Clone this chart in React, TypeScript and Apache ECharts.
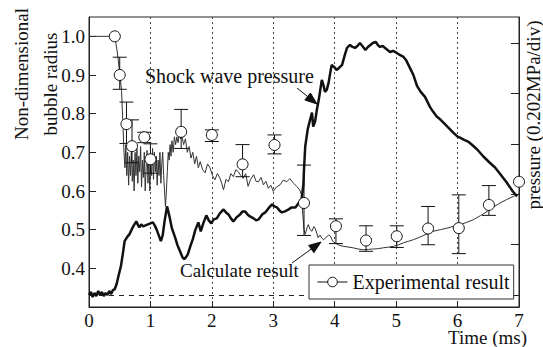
import React, { useEffect, useRef } from "react";
import * as echarts from "echarts";

const FONT = "Liberation Serif";

// Tick values
const radiusTicks = [0.4, 0.5, 0.6, 0.7, 0.8, 0.9, 1.0];
const pressureTicks = [0, 0.202, 0.404, 0.606, 0.808, 1.01]; // 0.202 MPa/div

// Calculated bubble radius (thin line): [time ms, non-dimensional radius]
const calculated: number[][] = [
  [0, 1.0], [0.42, 1.0], [0.46, 0.96], [0.5, 0.905], [0.53, 0.86], [0.55, 0.78], [0.57, 0.7],
  [0.585, 0.66], [0.6, 0.72], [0.615, 0.64], [0.63, 0.7], [0.645, 0.615], [0.66, 0.69],
  [0.675, 0.64], [0.69, 0.705], [0.705, 0.625], [0.72, 0.68], [0.735, 0.6], [0.75, 0.7],
  [0.765, 0.64], [0.78, 0.71], [0.795, 0.62], [0.81, 0.69], [0.825, 0.65], [0.84, 0.715],
  [0.855, 0.61], [0.87, 0.68], [0.885, 0.635], [0.9, 0.7], [0.915, 0.6], [0.93, 0.66],
  [0.945, 0.705], [0.96, 0.62], [0.975, 0.69], [0.99, 0.6], [1.005, 0.67], [1.02, 0.64],
  [1.035, 0.71], [1.05, 0.63], [1.065, 0.7], [1.08, 0.65], [1.095, 0.69], [1.11, 0.615],
  [1.125, 0.68], [1.14, 0.64], [1.155, 0.7], [1.17, 0.62], [1.185, 0.67], [1.2, 0.7],
  [1.215, 0.64], [1.23, 0.6], [1.245, 0.56], [1.26, 0.6], [1.275, 0.65], [1.29, 0.7],
  [1.305, 0.68], [1.32, 0.72], [1.335, 0.69], [1.35, 0.73], [1.37, 0.7], [1.39, 0.74],
  [1.41, 0.72], [1.43, 0.74], [1.45, 0.725], [1.47, 0.75], [1.49, 0.735], [1.51, 0.745],
  [1.54, 0.72], [1.57, 0.735], [1.6, 0.7], [1.63, 0.715], [1.66, 0.685], [1.69, 0.7],
  [1.72, 0.67], [1.75, 0.69], [1.78, 0.66], [1.81, 0.676], [1.85, 0.655], [1.89, 0.647],
  [1.93, 0.67], [1.97, 0.66], [2.01, 0.64], [2.05, 0.629], [2.09, 0.645], [2.13, 0.634],
  [2.16, 0.62], [2.19, 0.603], [2.23, 0.63], [2.27, 0.624], [2.31, 0.645], [2.35, 0.637],
  [2.39, 0.655], [2.43, 0.65], [2.47, 0.64], [2.51, 0.633], [2.55, 0.645], [2.59, 0.612],
  [2.63, 0.63], [2.68, 0.642], [2.72, 0.625], [2.76, 0.624], [2.8, 0.635], [2.84, 0.616],
  [2.88, 0.625], [2.92, 0.607], [2.96, 0.615], [3.0, 0.599], [3.05, 0.61], [3.11, 0.616],
  [3.16, 0.628], [3.22, 0.624], [3.27, 0.632], [3.33, 0.62], [3.38, 0.612], [3.43, 0.603],
  [3.46, 0.59], [3.48, 0.54], [3.5, 0.5], [3.52, 0.488], [3.55, 0.505], [3.57, 0.513],
  [3.6, 0.5], [3.63, 0.496], [3.66, 0.508], [3.68, 0.504], [3.71, 0.49], [3.73, 0.479],
  [3.76, 0.486], [3.79, 0.478], [3.82, 0.474], [3.86, 0.48], [3.9, 0.486], [3.93, 0.483],
  [3.97, 0.47], [4.0, 0.466], [4.07, 0.46], [4.14, 0.457], [4.22, 0.455], [4.3, 0.453],
  [4.38, 0.45], [4.47, 0.448], [4.55, 0.449], [4.63, 0.45], [4.71, 0.451], [4.79, 0.453],
  [4.88, 0.455], [4.96, 0.457], [5.04, 0.461], [5.12, 0.466], [5.2, 0.47], [5.28, 0.474],
  [5.39, 0.481], [5.5, 0.489], [5.61, 0.496], [5.72, 0.5], [5.83, 0.504], [5.94, 0.509],
  [6.04, 0.513], [6.15, 0.519], [6.26, 0.526], [6.37, 0.536], [6.48, 0.547], [6.58, 0.558],
  [6.69, 0.569], [6.8, 0.578], [6.91, 0.586], [7.0, 0.593],
];

// Shock wave pressure (thick line), MPa
const pressT = [0,0.03,0.06,0.09,0.12,0.15,0.18,0.21,0.24,0.27,
  0.30,0.33,0.36,0.39,0.42,0.45,0.48,0.52,0.55,0.58,
  0.62,0.66,0.69,0.72,0.75,0.77,0.80,0.82,0.85,0.88,
  0.92,0.96,1.00,1.04,1.07,1.10,1.14,1.17,1.20,1.23,
  1.27,1.31,1.35,1.40,1.44,1.48,1.52,1.55,1.58,1.61,
  1.65,1.69,1.73,1.78,1.82,1.86,1.91,1.95,1.99,2.03,
  2.08,2.13,2.19,2.23,2.27,2.31,2.35,2.40,2.46,2.50,
  2.54,2.58,2.62,2.68,2.72,2.76,2.82,2.87,2.92,2.98,
  3.02,3.06,3.10,3.14,3.19,3.25,3.30,3.36,3.42,3.46,
  3.49,3.50,3.52,3.56,3.60,3.63,3.65,3.68,3.71,3.74,
  3.76,3.79,3.82,3.84,3.87,3.90,3.93,3.95,3.99,4.03,
  4.07,4.12,4.16,4.20,4.25,4.29,4.33,4.37,4.41,4.45,
  4.50,4.54,4.58,4.62,4.67,4.70,4.74,4.78,4.82,4.86,
  4.90,4.95,5.01,5.06,5.12,5.16,5.20,5.24,5.28,5.34,
  5.40,5.47,5.55,5.60,5.66,5.72,5.77,5.85,5.93,6.00,
  6.04,6.10,6.17,6.23,6.32,6.42,6.52,6.61,6.70,6.80,
  6.90,6.97];
const pressP = [0.0,0.012,-0.008,0.008,-0.004,0.016,0.0,0.012,-0.004,0.008,
  0.0,0.016,0.004,0.02,0.024,0.044,0.076,0.116,0.164,0.216,
  0.232,0.244,0.26,0.275,0.287,0.295,0.279,0.271,0.283,0.275,
  0.279,0.283,0.287,0.291,0.279,0.263,0.236,0.216,0.24,0.295,
  0.355,0.315,0.267,0.232,0.2,0.176,0.152,0.144,0.152,0.164,
  0.196,0.224,0.26,0.291,0.255,0.287,0.319,0.299,0.287,0.303,
  0.307,0.327,0.343,0.331,0.323,0.307,0.295,0.311,0.323,0.335,
  0.335,0.323,0.315,0.307,0.299,0.303,0.323,0.331,0.347,0.363,
  0.355,0.351,0.339,0.331,0.335,0.343,0.351,0.351,0.371,0.383,
  0.443,0.503,0.595,0.663,0.703,0.731,0.675,0.695,0.743,0.782,
  0.814,0.862,0.838,0.814,0.822,0.85,0.894,0.922,0.914,0.902,
  0.91,0.922,0.958,0.99,1.002,0.994,0.99,0.998,1.01,0.998,
  0.982,0.994,1.002,1.01,1.014,1.002,0.994,0.998,0.99,0.982,
  0.974,0.978,0.97,0.962,0.954,0.942,0.922,0.902,0.882,0.838,
  0.814,0.794,0.754,0.735,0.715,0.703,0.691,0.671,0.651,0.635,
  0.631,0.623,0.615,0.603,0.583,0.555,0.531,0.511,0.483,0.451,
  0.415,0.395];

// Experimental result
const expT = [0.42, 0.5, 0.61, 0.7, 0.9, 1.0, 1.5, 2.0, 2.5, 3.02, 3.5, 4.02, 4.51, 5.01, 5.52, 6.02, 6.51, 7.0];
const expR = [1.0, 0.9, 0.773, 0.716, 0.739, 0.682, 0.753, 0.745, 0.669, 0.719, 0.569, 0.509, 0.472, 0.483, 0.503, 0.504, 0.564, 0.624];

// Error bars
const errT = [0.5, 0.61, 0.7, 0.9, 1.0, 1.5, 2.0, 2.5, 3.02, 3.5, 4.02, 4.51, 5.01, 5.52, 6.02, 6.51];
const errLow = [0.863, 0.723, 0.673, 0.725, 0.646, 0.71, 0.728, 0.637, 0.696, 0.485, 0.464, 0.444, 0.454, 0.461, 0.438, 0.537];
const errHigh = [0.946, 0.83, 0.784, 0.752, 0.722, 0.811, 0.758, 0.72, 0.745, 0.667, 0.528, 0.51, 0.51, 0.56, 0.59, 0.614];

function arrow(x1: number, y1: number, x2: number, y2: number) {
  const dx = x2 - x1, dy = y2 - y1;
  const len = Math.sqrt(dx * dx + dy * dy);
  const ux = dx / len, uy = dy / len;
  const hl = 12, hw = 4.5;
  const bx = x2 - ux * hl, by = y2 - uy * hl;
  return [
    { type: "line", z: 10, shape: { x1, y1, x2: bx, y2: by }, style: { stroke: "#111", lineWidth: 1 } },
    {
      type: "polygon", z: 10,
      shape: { points: [[x2, y2], [bx - uy * hw, by + ux * hw], [bx + uy * hw, by - ux * hw]] },
      style: { fill: "#111", stroke: "#111" },
    },
  ];
}

function txt(text: string, x: number, y: number, align: string, size: number, rotation = 0, lineHeight?: number) {
  const style: any = {
    text, fontFamily: FONT, fontSize: size, fill: "#111",
    align, verticalAlign: "middle",
  };
  if (lineHeight) style.lineHeight = lineHeight;
  return { type: "text", x, y, rotation, z: 10, style };
}

export default function App() {
  const ref = useRef<HTMLDivElement>(null);
  useEffect(() => {
    if (!ref.current) return;
    const chart = echarts.init(ref.current, null, { renderer: "svg" });
    const axisColor = "#222";
    const option: any = {
      animation: false,
      backgroundColor: "#fff",
      textStyle: { fontFamily: FONT },
      grid: { left: 89, top: 17, width: 430, height: 290, show: true, borderColor: axisColor, borderWidth: 1 },
      xAxis: {
        type: "value", min: 0, max: 7, interval: 1,
        axisLine: { show: true, onZero: false, lineStyle: { color: axisColor } },
        axisTick: { show: true, inside: true, length: 6, lineStyle: { color: axisColor } },
        axisLabel: { color: "#111", fontSize: 19, lineHeight: 16, fontFamily: FONT, margin: 5 },
        splitLine: { show: true, lineStyle: { color: "#444", type: [2, 3], width: 1 } },
      },
      yAxis: [
        {
          type: "value", min: 0.3, max: 1.05,
          axisLine: { show: true, onZero: false, lineStyle: { color: axisColor } },
          axisTick: { show: true, inside: true, length: 7, customValues: radiusTicks, lineStyle: { color: axisColor } },
          axisLabel: { customValues: radiusTicks, formatter: (v: number) => v.toFixed(1), color: "#111", fontSize: 19, fontFamily: FONT, margin: 4 },
          splitLine: { show: false },
        },
        {
          type: "value", position: "right", min: -0.048, max: 1.114,
          axisLine: { show: true, onZero: false, lineStyle: { color: axisColor } },
          axisTick: { show: true, inside: true, length: 8, customValues: pressureTicks, lineStyle: { color: axisColor } },
          axisLabel: { show: false },
          splitLine: { show: false },
        },
      ],
      legend: {
        data: ["Experimental result"],
        left: 309, top: 265,
        padding: [7, 4, 7, 8],
        itemWidth: 30, itemHeight: 12,
        backgroundColor: "#fff", borderColor: "#333", borderWidth: 1,
        textStyle: { fontSize: 20, fontFamily: FONT, color: "#111" },
        lineStyle: { color: "#111", width: 1, opacity: 1 },
        itemStyle: { color: "#fff", borderColor: "#111", borderWidth: 1 },
      },
      series: [
        {
          name: "Calculate result", type: "line", yAxisIndex: 0, showSymbol: false, z: 2,
          data: calculated,
          lineStyle: { color: "#333", width: 1 },
        },
        {
          name: "Shock wave pressure", type: "line", yAxisIndex: 1, showSymbol: false, z: 3,
          data: pressT.map((t, i) => [t, pressP[i]]),
          lineStyle: { color: "#111", width: 2.5 },
          markLine: {
            silent: true, symbol: "none", label: { show: false }, z: 1,
            lineStyle: { color: "#222", type: [5, 5], width: 1 },
            data: [{ yAxis: 0 }],
          },
        },
        {
          name: "Error", type: "custom", yAxisIndex: 0, z: 4,
          encode: { x: 0, y: [1, 2] },
          data: errT.map((t, i) => [t, errLow[i], errHigh[i]]),
          renderItem: (params: any, api: any) => {
            const lo = api.coord([api.value(0), api.value(1)]);
            const hi = api.coord([api.value(0), api.value(2)]);
            const w = 7;
            const st = { stroke: "#111", lineWidth: 1 };
            return {
              type: "group",
              children: [
                { type: "line", shape: { x1: lo[0], y1: lo[1], x2: hi[0], y2: hi[1] }, style: st },
                { type: "line", shape: { x1: lo[0] - w, y1: lo[1], x2: lo[0] + w, y2: lo[1] }, style: st },
                { type: "line", shape: { x1: hi[0] - w, y1: hi[1], x2: hi[0] + w, y2: hi[1] }, style: st },
              ],
            };
          },
        },
        {
          name: "Experimental result", type: "line", yAxisIndex: 0, z: 5,
          data: expT.map((t, i) => [t, expR[i]]),
          symbol: "circle", symbolSize: 11, showSymbol: true,
          itemStyle: { color: "#fff", borderColor: "#111", borderWidth: 1 },
          lineStyle: { color: "#111", width: 1, opacity: 0 },
        },
      ],
      graphic: [
        txt("Non-dimensional", 21, 74, "center", 19, Math.PI / 2),
        txt("bubble radius", 50, 84, "center", 19, Math.PI / 2),
        txt("pressure (0.202MPa/div)", 533, 115, "center", 19, Math.PI / 2),
        txt("Time (ms)", 527, 337, "right", 19, 0, 16),
        txt("Shock wave pressure", 145, 76, "left", 20),
        txt("Calculate result", 180, 270, "left", 19),
        ...arrow(297, 88, 317, 104),
        ...arrow(292, 263, 321, 242),
      ],
    };
    chart.setOption(option);
    return () => chart.dispose();
  }, []);
  return (
    <div
      ref={ref}
      style={{ position: "absolute", left: 0, top: 0, width: 543, height: 347, background: "#fff" }}
    />
  );
}
